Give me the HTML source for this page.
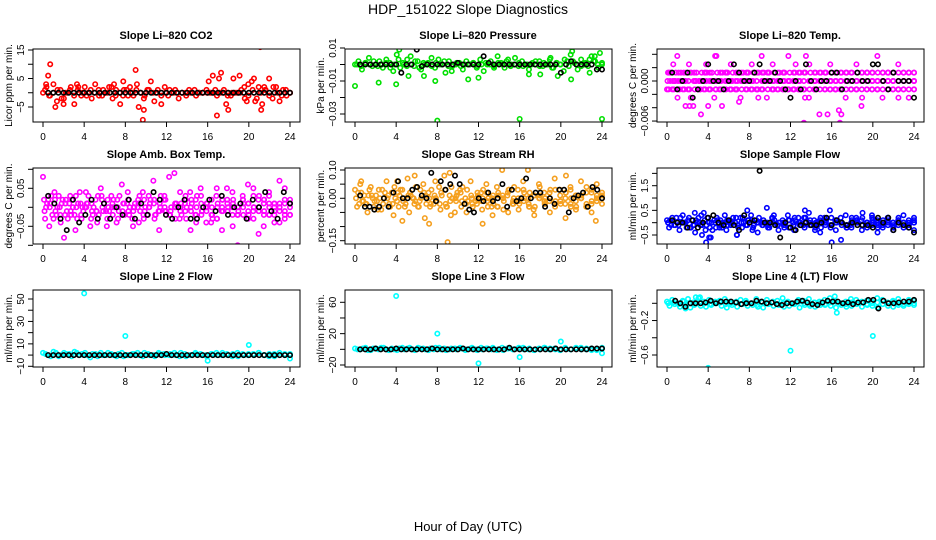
<!DOCTYPE html>
<html><head><meta charset="utf-8">
<style>
html,body{margin:0;padding:0;background:#fff;}
svg{display:block;font-family:"Liberation Sans",sans-serif;}
</style></head>
<body>
<svg id="chart" width="936" height="540" viewBox="0 0 936 540">
<text x="468" y="14" text-anchor="middle" font-size="14">HDP_151022  Slope Diagnostics</text>
<text x="468" y="531" text-anchor="middle" font-size="13">Hour of Day (UTC)</text>
</svg>
<script>
const xTicks = [0,4,8,12,16,20,24];

// ---- Panel 1: CO2 ----
const co2Red = [0,2,-1,3,-3,1,-2,0,2,-4,1,-1,2,0,-2,3,1,-1,0,2,-2,1,0,-1,1,2,-1,3,0,-2,1,4,-3,1,-4,2,-1,0,1,-2,0,0,1,0,-1,0,0,1,0,0,-1,0,1,0,-1,0,0,1,-2,3,4,-3,2,-4,1,5,-2,2,-3,1,-1,0];
const co2Red2 = [1,-1,0,1,-2,0,1,-1,2,0,-1,1,0,-1,1,0,2,-1,0,1,-1,0,1,0,-1,1,0,0,-1,0,1,0,0,0,-1,0,1,0,0,0,0,1,0,0,-1,0,0,0,2,-1,1,-2,0,1,-1,2,0,-1,1,0];
const co2OutHours = [0.5,0.7,1.2,2,7.5,7.8,9,9.7,9.8,9.3,16.1,16.5,16.9,17.1,17.3,17.8,18,18.5,19.1,19.8,20.5,21.1,21.2,21.5,0.3,3.3,6.9];
const co2OutVals = [6,10,-5,-4,-4,4,8,-9.5,-6,-5,4,6,-8,5,7,-4,-6,5,6,-3,5,16,-6,2,3,3,3];
const co2Black = [0,0,0,0,0,0,0,0,0,0,0,0,0,0,0,0,0,0,0,0,0,0,0,0,0,0,0,0,0,0,0,0,0,0,0,0,0,0,0,0,0,0,0,0,0,0,0,0];

// ---- Panel 2: Pressure (thousandths) ----
const presGreen = [0,2,-3,1,4,-1,0,2,-2,3,1,-4,6,-2,0,3,5,-1,2,-3,0,1,4,-2,3,0,-5,2,-1,0,1,-3,2,0,1,-2,3,-4,0,2,-1,5,1,-2,3,0,4,-1,2,0,-3,1,0,2,-1,0,3,-2,1,0,-4,2,6,1,-3,3,0,-1,5,2,-2,0];
const presGreen2 = [0,-1,1,0,2,-1,0,1,-2,0,3,1,-1,0,2,-2,1,0,-1,1,0,2,-1,0,1,-1,0,0,1,-1,0,1,0,-2,1,0,2,-1,0,1,-1,0,0,2,-1,1,0,-2,1,0,3,-1,2,0,-1,1,3,2,0,1];
const presOutHours = [0,2.3,4,4.3,5.2,6.7,7.8,8,9.4,11,12,16,16.9,18,19,19.7,21,21.1,22.8,23.8,24,23.3];
const presOutVals = [-13,-11,-12,9,-7,-7,-10,-34,-4,-9,-8,-33,-6,-6,4,-7,-9,8,-5,7,-33,5];
const presBlack = [0,0,0,0,0,0,0,0,-5,0,0,9,-1,0,0,0,0,0,0,1,0,0,0,0,5,1,0,0,0,0,0,0,0,0,0,0,0,0,0,-5,0,2,0,0,0,0,-3,-3];

// ---- Panel 3: Li-820 Temp (units of 0.00125) ----
const tempMagA = [1,2,1,1,2,1,0,1,1,3,1,1,2,1,1,1,2,1,1,1,2,1,1,3,1,1,1,2,1,1,1,2,1,1,1,1,2,1,1,1,3,1,1,1,2,1,1,1];
const tempMagB = [0,0,0,0,-2,0,0,0,0,0,-3,0,0,0,0,0,0,-2,0,0,0,0,0,0,0,0,-2,0,0,0,0,0,0,-4,0,0,0,-2,0,0,0,0,0,0,-2,0,0,0];
const tempMagC = [-1,-1,-2,-1,-1,-3,-1,-1,-1,-2,-1,-1,-1,-1,-2,-1,-1,-1,-1,-2,-1,-1,-1,-1,-1,-1,-1,-2,-1,-4,-1,-1,-1,-1,-2,-1,-1,-3,-1,-1,-1,-2,-1,-1,-1,-1,-2,-1];
const tempMagD = [1,0,-1,0,1,0,-1,1,0,-1,0,1,0,-1,0,1,0,-1,0,1,-1,0,1,0,-1,0,1,0,-1,0,1,0,-1,0,1,0,-1,0,1,0,-1,0,1,0,-1,0,1,0];
const tempMagE = [0,0,0,0,0,0,0,0,0,0,0,0,0,0,0,0,0,0,0,0,0,0,0,0,0,0,0,0,0,0,0,0,0,0,0,0,0,0,0,0,0,0,0,0,0,0,0,0];
const tempMagF = [-1,-1,-1,-1,-1,-1,-1,-1,-1,-1,-1,-1,-1,-1,-1,-1,-1,-1,-1,-1,-1,-1,-1,-1,-1,-1,-1,-1,-1,-1,-1,-1,-1,-1,-1,-1,-1,-1,-1,-1,-1,-1,-1,-1,-1,-1,-1,-1];
const tempMagG = [1,1,1,1,1,1,1,1,1,1,1,1,1,1,1,1,1,1,1,1,1,1,1,1,1,1,1,1,1,1,1,1,1,1,1,1,1,1,1,1,1,1,1,1,1,1,1,1];
const tempOutHours = [1.3,1.8,2.2,3.3,4.0,7,13.3,15.6,16.8,16.7,13.5,1.0,3.8,4.8,9.2,12.5];
const tempOutVals = [5,-3,-3,-4,-3,-2.5,-5,-4,-5,-3.5,3,3,2,3,3,2];
const tempBlack = [1,-1,0,1,-2,-1,0,2,0,0,-1,0,2,1,0,0,1,2,0,0,1,0,-1,-2,0,-1,2,0,-1,0,0,1,1,-1,0,0,1,0,0,2,2,0,-1,1,0,0,0,-2];

// ---- Panel 4: Amb Box Temp (hundredths) ----
const ambA = [8,2,-3,3,-8,1,-2,4,0,-5,2,5,-1,3,-4,6,1,-3,0,4,-2,7,-1,2,8,9,-3,1,4,-2,5,0,-4,3,-1,5,0,-2,3,6,-1,2,-5,4,1,7,-3,2];
const ambB = [-3,1,-1,-4,2,-2,0,-3,1,-1,-4,0,2,-2,-3,1,-1,0,-4,2,0,-3,1,-1,-2,-3,0,2,-1,-4,-2,1,0,-3,2,-1,-5,-2,0,1,-3,-1,2,-2,-4,0,1,-2];
const ambC = [2,-5,4,0,-2,3,-6,1,4,-3,-1,3,-5,0,2,-1,4,-5,2,-2,3,1,-6,3,-2,0,4,-1,-6,2,3,-4,-2,5,-6,2,4,-10,2,-3,5,-7,1,3,-2,-4,5,0];
const ambD = [0,3,-2,1,-1,2,-3,0,1,-2,3,-1,0,2,-1,1,-2,0,3,-1,1,-2,0,2,-1,0,1,-3,2,0,-1,1,-2,0,2,-1,1,0,-2,1,0,-1,2,0,-1,1,-2,1];
const ambE = [-1,0,2,-2,1,-1,3,-2,0,1,-1,2,-3,1,0,-2,2,-1,1,-3,0,2,-1,0,-2,1,-1,3,0,-2,1,-1,2,-3,0,1,-2,0,2,-1,3,0,-2,1,0,-1,2,-2];
const ambF = [1,-2,0,2,-3,0,1,-1,3,0,-2,1,-1,0,3,-2,0,1,-1,0,2,-2,3,-1,0,1,-2,0,1,3,-1,0,-3,1,-1,0,2,-1,1,-2,0,3,-1,-2,1,0,-1,1];
const ambBlack = [3,1,-3,-6,2,-4,-2,2,-3,1,-3,0,-2,2,-3,1,-2,4,2,-2,-3,0,2,-3,-3,0,2,-1,3,-2,0,1,-3,2,0,4,-1,-3,4,1];

// ---- Panel 5: Gas Stream RH (hundredths) ----
const rhA = [3,5,-2,4,1,-4,6,2,-1,3,7,0,-3,5,2,-2,4,8,1,-5,3,0,6,-1,2,5,-3,4,10,1,-2,3,6,0,-4,5,2,-1,7,3,-2,4,1,6,-3,2,5,0];
const rhB = [-3,-1,-5,0,-4,-2,1,-6,-3,0,-5,-2,-1,-7,-3,0,-4,-2,-6,-1,-3,-5,0,-2,-4,-1,-6,-3,0,-5,-2,-4,-1,-3,-6,0,-2,-5,-3,-1,-7,-2,-4,0,-3,-5,-1,-2];
const rhC = [0,2,-2,1,-1,3,0,-2,2,-1,1,0,-3,2,0,1,-2,3,-1,0,2,-2,1,0,-1,2,0,-3,1,2,-1,0,3,-2,1,0,-1,2,-2,1,0,3,-1,0,2,-2,1,0];
const rhD = [2,-1,1,-3,3,0,-2,4,1,-3,2,-1,3,1,-2,0,2,-3,4,1,-1,3,-2,2,0,-3,1,2,-4,3,0,-1,2,-3,1,4,-2,0,3,-1,2,-3,1,0,-2,3,-1,2];
const rhE = [-2,1,3,-1,0,2,-3,0,3,-2,1,4,0,-2,3,-1,1,-3,0,2,4,-1,-3,1,3,0,-2,1,-1,3,4,-2,0,2,-3,1,0,3,-1,-2,2,0,-3,1,4,-1,0,1];
const rhOutHours = [0.6,4.6,5.8,7.8,9.0,9.2,12.4,4.1,16.8,20.5,23.4,7.2];
const rhOutVals = [6,-8,8,6,-15.5,9,-9,6,10,8,-8,-9];
const rhBlack = [1,-3,-3,-4,-3,0,-3,2,6,0,0,3,4,1,0,9,-1,6,3,5,8,5,-2,-4,-5,0,-1,2,-1,0,5,-3,3,-1,0,7,0,2,2,-3,0,-2,3,3,-5,0,1,2,-3,4,3,0];

// ---- Panel 6: Sample Flow (tenths) ----
const flowA = [1,2,0,3,1,-1,2,4,0,1,-2,3,1,0,2,-1,3,1,0,6,2,-1,1,3,0,2,-1,4,1,0,2,5,1,0,3,-1,2,1,0,3,1,-1,2,0,1,3,0,2];
const flowB = [-2,-1,-3,0,-2,-4,-1,-3,-6,-2,-1,-3,0,-5,-2,-1,-3,-4,-1,-2,0,-3,-1,-2,-3,0,-2,-1,-3,-4,-1,-2,-3,-7,-1,-2,0,-3,-2,-1,-4,-2,-1,-3,0,-2,-1,-3];
const flowC = [0,1,-1,0,2,-1,0,1,-2,0,1,0,-1,2,0,-1,1,0,-1,0,2,-1,0,1,-1,0,2,0,-1,1,0,-1,0,2,-1,0,1,-1,0,2,0,-1,1,0,-1,0,1,0];
const flowD = [1,-1,2,0,-2,1,3,-1,0,2,-2,1,0,-1,2,1,-2,0,1,-1,3,0,-2,1,2,-1,0,1,-2,2,0,-1,1,0,-2,2,1,-1,0,1,-2,0,2,-1,1,0,-2,1];
const flowE = [-1,2,0,-2,1,0,-1,2,-3,1,0,-1,2,-2,0,1,-1,2,0,-2,1,0,-1,-2,1,0,2,-1,0,-2,1,2,0,-1,-2,1,0,2,-1,0,-1,1,0,-2,2,0,-1,0];
const flowOutHours = [3.8,4.1,3.4,6.8,7.8,13.4,16,19,2.7];
const flowOutVals = [-8,-6,-5,-5,5,5,-8,4,4];
const flowBlack = [1,0,0,-2,1,-2,0,2,3,0,-1,1,-1,-3,3,0,1,21,0,0,-1,-6,0,-2,-3,-1,0,-1,-1,0,2,-1,1,0,-1,0,-1,-1,-1,-2,2,0,2,-3,0,-1,-2,-4];

// ---- Panel 7: Line 2 Flow ----
const l2Cyan = [2,0,3,-1,2,1,3,0,2,-2,1,2,0,1,-1,2,0,1,2,-1,1,0,2,1,0,2,-1,1,0,2,1,0,1,2,0,1,-1,2,1,0,1,2,0,-1,1,2,0,1];
const l2Cyan2 = [1,-1,2,0,1,-1,2,1,0,1,-1,0,2,0,1,-1,0,1,0,2,0,-1,1,0,1,0,2,-1,0,1,0,-1,1,0,2,0,1,-1,0,1,0,2,0,1,-1,0,1,0];
const l2OutHours = [4,8,16,20,24];
const l2OutVals = [55,17,-5,9,-3];
const l2Black = [0,0,0,0,0,0,0,0,0,0,0,0,0,0,0,0,0,0,0,0,0,0,0,1,0,0,0,0,0,0,0,0,0,0,0,0,0,0,0,0,0,0,0,0,0,0,0,0];

// ---- Panel 8: Line 3 Flow ----
const l3Cyan = [1,0,2,-1,1,2,0,1,-1,2,1,0,2,1,-1,0,2,1,0,1,2,-1,1,0,2,1,0,-1,2,1,0,1,2,0,-1,1,2,0,1,-1,2,0,1,2,0,1,-1,2];
const l3Cyan2 = [0,1,-1,1,0,2,-1,0,1,0,2,-1,1,0,1,2,0,-1,1,0,1,0,2,-1,0,1,2,0,-1,1,0,2,0,1,-1,0,2,1,0,-1,1,0,2,0,1,-1,0,1];
const l3OutHours = [4,8,12,16,20,24];
const l3OutVals = [68,20,-18,-10,10,-5];
const l3Black = [0,0,0,1,0,0,0,1,0,0,0,0,0,0,1,0,0,0,0,0,1,0,0,0,0,0,0,0,0,2,0,0,0,0,0,0,0,0,1,0,0,0,0,0,0,1,1,1];

// ---- Panel 9: Line 4 (LT) Flow (hundredths) ----
const l4CyanA = [2,4,0,3,5,1,6,2,4,0,3,5,2,1,4,3,0,5,2,4,1,3,6,2,0,4,3,5,1,2,4,6,3,0,2,5,4,1,3,2,6,4,1,3,5,2,4,3];
const l4CyanB = [-3,-1,-4,-2,-5,-1,-3,-4,-2,0,-3,-5,-2,-4,-1,-3,-2,-4,-5,-1,-3,-2,-4,-3,-1,-5,-2,-3,-4,-2,-1,-3,-5,-2,-4,-3,-1,-4,-2,-3,-5,-1,-3,-4,-2,-3,-1,-2];
const l4CyanC = [0,1,-1,2,0,-2,1,0,-1,2,1,-1,0,2,-1,1,0,-2,1,0,2,-1,0,1,-1,2,0,-1,1,0,-2,1,2,0,-1,1,0,2,-1,0,1,-1,0,2,0,-1,1,0];
const l4OutHours = [4,12,20,16.5,1.8,16.3,2.8,3.2];
const l4OutVals = [-75,-55,-38,-11,-6,8,7,7];
const l4Black = [3,0,-4,0,0,0,1,3,0,2,2,2,1,-1,0,0,3,2,0,1,-1,-2,0,0,2,3,1,-1,-2,1,3,2,2,0,1,-1,1,1,4,4,-6,3,0,0,1,2,2,4];

const NS = 'http://www.w3.org/2000/svg';
const svg = document.getElementById('chart');
const colX = [33,345,657];
const rows = [[49,122],[168,244],[290,367]];
function mk(tag, attrs, parent){
  const e = document.createElementNS(NS, tag);
  for (const k in attrs) e.setAttribute(k, attrs[k]);
  (parent||svg).appendChild(e);
  return e;
}
function hourScale(x0){ return h => x0 + 10 + h * (247/24); }
function linScale(v1,p1,v2,p2){ return v => p1 + (v - v1) * (p2 - p1) / (v2 - v1); }
function spread(arr, off){ const n = arr.length; return arr.map((v,i)=>[off + i*(24-off)/(n-1||1), v]); }
function zip(h, v){ return h.map((x,i)=>[x, v[i]]); }

function panel(cfg){
  const x0 = colX[cfg.col], [top,bot] = rows[cfg.row];
  const g = mk('g', {});
  
  
  const xs = hourScale(x0);
  const ys = linScale(cfg.y1, cfg.p1, cfg.y2, cfg.p2);
  const clipId = 'clip' + cfg.col + cfg.row;
  const cp = mk('clipPath', {id: clipId}, g);
  mk('rect', {x: x0, y: top, width: 267, height: bot-top}, cp);
  const t = mk('text', {x: x0 + 133, y: top - 10, 'text-anchor':'middle', 'font-size': 11, 'font-weight':'bold'}, g);
  t.textContent = cfg.title;
  
  
  const pts = mk('g', {'clip-path': 'url(#' + clipId + ')', fill: 'none', 'stroke-width': 1.6}, g);
  cfg.series.forEach(s => {
    s.pts.forEach(([h, v]) => {
      const c = mk('circle', {cx: xs(h), cy: ys(v * s.unit), r: 2.2, stroke: s.color}, pts);
      
      
    });
  });
  const box = mk('rect', {x: x0, y: top, width: 267, height: bot-top, fill:'none', stroke:'#000', 'stroke-width':1}, g);
  
  
  xTicks.forEach(h => {
    mk('line', {x1: xs(h), x2: xs(h), y1: bot, y2: bot + 5, stroke:'#000'}, g);
    const tl = mk('text', {x: xs(h), y: bot + 18, 'text-anchor':'middle', 'font-size': 10}, g);
    tl.textContent = h;
    
    
  });
  cfg.ticks.forEach(v => {
    const y = ys(v);
    mk('line', {x1: x0 - 5, x2: x0, y1: y, y2: y, stroke:'#000'}, g);
  });
  cfg.labels.forEach(([v, s]) => {
    const y = ys(v);
    const tl = mk('text', {x: x0 - 9, y: y, 'text-anchor':'middle', 'font-size': 10, transform: 'rotate(-90 ' + (x0-9) + ' ' + y + ')'}, g);
    tl.textContent = s;
    
    
  });
  const yc = (top + bot) / 2;
  const yt = mk('text', {x: x0 - 21, y: yc, 'text-anchor':'middle', 'font-size': 10, transform: 'rotate(-90 ' + (x0-21) + ' ' + yc + ')'}, g);
  yt.textContent = cfg.ylab;
  
  
}

panel({name:'panel-co2', col:0, row:0, title:'Slope Li–820 CO2', ylab:'Licor ppm per min.', y1:15,p1:50,y2:-5,p2:107,
  ticks:[-5,0,5,10,15], labels:[[-5,'−5'],[5,'5'],[15,'15']],
  series:[{color:'#ff0000',unit:1,label:'co2',pts:spread(co2Red,0).concat(spread(co2Red2,0.2),zip(co2OutHours,co2OutVals))},
          {color:'#000',unit:1,label:'co2-black',pts:spread(co2Black,0.5)}]});
panel({name:'panel-pressure', col:1, row:0, title:'Slope Li–820 Pressure', ylab:'kPa per min.', y1:0.01,p1:48,y2:-0.03,p2:114,
  ticks:[0.01,0,-0.01,-0.02,-0.03], labels:[[0.01,'0.01'],[-0.01,'−0.01'],[-0.03,'−0.03']],
  series:[{color:'#00e000',unit:0.001,label:'pressure',pts:spread(presGreen,0).concat(spread(presGreen2,0.2),zip(presOutHours,presOutVals))},
          {color:'#000',unit:0.001,label:'pressure-black',pts:spread(presBlack,0.5)}]});
panel({name:'panel-li820-temp', col:2, row:0, title:'Slope Li–820 Temp.', ylab:'degrees C per min.', y1:0.004,p1:54.3,y2:-0.004,p2:107.7,
  ticks:[0.004,0.002,0,-0.002,-0.004,-0.006], labels:[[0,'0.000'],[-0.006,'−0.006']],
  series:[{color:'#ff00ff',unit:0.00125,label:'li820-temp',pts:spread(tempMagA,0.1).concat(spread(tempMagB,0.3),spread(tempMagC,0),spread(tempMagD,0.2),spread(tempMagE,0.05),spread(tempMagF,0.15),spread(tempMagG,0.35),zip(tempOutHours,tempOutVals))},
          {color:'#000',unit:0.00125,label:'li820-temp-black',pts:spread(tempBlack,0.5)}]});
panel({name:'panel-amb-box-temp', col:0, row:1, title:'Slope Amb. Box Temp.', ylab:'degrees C per min.', y1:0.05,p1:188.3,y2:-0.05,p2:226.3,
  ticks:[0.1,0.05,0,-0.05,-0.1], labels:[[0.05,'0.05'],[-0.05,'−0.05']],
  series:[{color:'#ff00ff',unit:0.01,label:'amb-temp',pts:spread(ambA,0).concat(spread(ambB,0.2),spread(ambC,0.1),spread(ambD,0.3),spread(ambE,0.15),spread(ambF,0.4))},
          {color:'#000',unit:0.01,label:'amb-temp-black',pts:spread(ambBlack,0.5)}]});
panel({name:'panel-gas-rh', col:1, row:1, title:'Slope Gas Stream RH', ylab:'percent per min.', y1:0.10,p1:170,y2:-0.15,p2:240.7,
  ticks:[0.1,0.05,0,-0.05,-0.1,-0.15], labels:[[0.1,'0.10'],[0,'0.00'],[-0.15,'−0.15']],
  series:[{color:'#f5a020',unit:0.01,label:'gas-rh',pts:spread(rhA,0).concat(spread(rhB,0.2),spread(rhC,0.1),spread(rhD,0.3),spread(rhE,0.4),zip(rhOutHours,rhOutVals))},
          {color:'#000',unit:0.01,label:'gas-rh-black',pts:spread(rhBlack,0.5)}]});
panel({name:'panel-sample-flow', col:2, row:1, title:'Slope Sample Flow', ylab:'ml/min per min.', y1:1.5,p1:185.7,y2:-0.5,p2:235,
  ticks:[2,1.5,1,0.5,0,-0.5], labels:[[1.5,'1.5'],[0.5,'0.5'],[-0.5,'−0.5']],
  series:[{color:'#0000ff',unit:0.1,label:'sample-flow',pts:spread(flowA,0).concat(spread(flowB,0.2),spread(flowC,0.1),spread(flowD,0.3),spread(flowE,0.4),zip(flowOutHours,flowOutVals))},
          {color:'#000',unit:0.1,label:'sample-flow-black',pts:spread(flowBlack,0.5)}]});
panel({name:'panel-line2-flow', col:0, row:2, title:'Slope Line 2 Flow', ylab:'ml/min per min.', y1:50,p1:299,y2:-10,p2:366.3,
  ticks:[50,40,30,20,10,0,-10], labels:[[50,'50'],[30,'30'],[10,'10'],[-10,'−10']],
  series:[{color:'#00ffff',unit:1,label:'line2-flow',pts:spread(l2Cyan,0).concat(spread(l2Cyan2,0.25),zip(l2OutHours,l2OutVals))},
          {color:'#000',unit:1,label:'line2-flow-black',pts:spread(l2Black,0.5)}]});
panel({name:'panel-line3-flow', col:1, row:2, title:'Slope Line 3 Flow', ylab:'ml/min per min.', y1:60,p1:302.3,y2:-20,p2:365,
  ticks:[60,40,20,0,-20], labels:[[60,'60'],[20,'20'],[-20,'−20']],
  series:[{color:'#00ffff',unit:1,label:'line3-flow',pts:spread(l3Cyan,0).concat(spread(l3Cyan2,0.25),zip(l3OutHours,l3OutVals))},
          {color:'#000',unit:1,label:'line3-flow-black',pts:spread(l3Black,0.5)}]});
panel({name:'panel-line4-flow', col:2, row:2, title:'Slope Line 4 (LT) Flow', ylab:'ml/min per min.', y1:0,p1:303.3,y2:-0.6,p2:355,
  ticks:[0,-0.2,-0.4,-0.6], labels:[[-0.2,'−0.2'],[-0.6,'−0.6']],
  series:[{color:'#00ffff',unit:0.01,label:'line4-flow',pts:spread(l4CyanA,0).concat(spread(l4CyanB,0.25),spread(l4CyanC,0.12),zip(l4OutHours,l4OutVals))},
          {color:'#000',unit:0.01,label:'line4-flow-black',pts:spread(l4Black,0.8)}]});
</script>
</body></html>
